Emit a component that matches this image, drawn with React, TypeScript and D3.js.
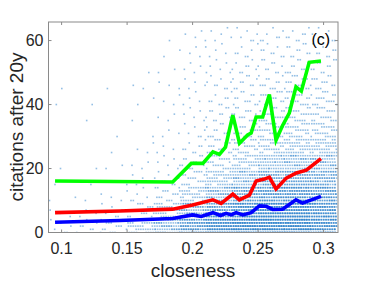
import * as d3 from 'd3';
import React, { useEffect, useRef } from 'react';

// axis setup
const xTicks = [0.1, 0.15, 0.2, 0.25, 0.3];
const yTicks = [0, 20, 40, 60];

// mean lines (closeness, citations after 20y)
const greenX = [0.095, 0.1848, 0.199, 0.2078, 0.2155, 0.2205, 0.2251, 0.2307, 0.2358, 0.242, 0.2447, 0.2485, 0.2535, 0.2586, 0.2637, 0.2685, 0.2738, 0.2789, 0.283, 0.289, 0.298];
const greenY = [16.1, 15.8, 21.6, 21.6, 25.2, 24.4, 26.7, 36.7, 27.9, 30.5, 31.1, 36.1, 36.1, 43.1, 28.9, 33.3, 37.3, 45.5, 44.2, 53.2, 53.6];

const redX = [0.095, 0.1444, 0.1848, 0.2, 0.2155, 0.2218, 0.2307, 0.2357, 0.2434, 0.2485, 0.2548, 0.2586, 0.2637, 0.2715, 0.2792, 0.2868, 0.298];
const redY = [6.2, 6.7, 7.3, 8.6, 10.2, 9.1, 12.0, 10.2, 11.7, 16.1, 16.7, 17.3, 13.6, 17.0, 18.6, 19.5, 23.1];

const blueX = [0.095, 0.1444, 0.1848, 0.2, 0.2066, 0.2155, 0.2213, 0.2256, 0.2295, 0.2332, 0.2383, 0.2447, 0.251, 0.2561, 0.2612, 0.2687, 0.2789, 0.2839, 0.298];
const blueY = [3.2, 3.75, 4.4, 5.5, 5.0, 6.2, 5.3, 6.0, 5.5, 6.2, 5.5, 6.2, 8.3, 8.2, 7.2, 7.25, 10.2, 9.2, 11.3];

// scatter density: closeness bins (0.02 wide) x citation bands (5 wide)
const binStarts = [0.09, 0.11, 0.13, 0.15, 0.17, 0.19, 0.21, 0.23, 0.25, 0.27, 0.29];
const bandStarts = [0, 5, 10, 15, 20, 25, 30, 35, 40, 45, 50, 55, 60];
const counts = [
  [6, 3, 1, 1, 1, 0, 0, 0, 1, 1, 0, 0, 0],
  [8, 3, 2, 1, 1, 0, 0, 1, 1, 0, 0, 0, 0],
  [15, 6, 3, 2, 2, 1, 1, 0, 0, 1, 0, 0, 0],
  [40, 15, 6, 4, 3, 2, 1, 1, 1, 2, 1, 0, 0],
  [80, 35, 15, 8, 5, 4, 3, 3, 3, 3, 2, 1, 1],
  [150, 80, 40, 20, 12, 8, 6, 5, 5, 4, 4, 4, 4],
  [220, 140, 80, 45, 25, 16, 12, 10, 8, 8, 6, 5, 5],
  [250, 200, 120, 70, 40, 25, 18, 14, 12, 10, 8, 7, 6],
  [250, 220, 150, 100, 60, 35, 25, 18, 15, 12, 10, 8, 7],
  [250, 220, 160, 110, 70, 45, 30, 22, 18, 15, 12, 10, 8],
  [200, 180, 140, 100, 70, 45, 30, 22, 18, 14, 10, 8, 6],
];

function App() {
  const ref = useRef(null);

  useEffect(() => {
    const svg = d3.select(ref.current);
    svg.selectAll('*').remove();

    const x = d3.scaleLinear().domain([0.09, 0.311]).range([48.5, 338]);
    const y = d3.scaleLinear().domain([0, 65.8]).range([232.5, 22]);

    svg.append('defs').append('clipPath').attr('id', 'plotclip')
      .append('rect').attr('x', 48.5).attr('y', 22).attr('width', 289.5).attr('height', 210.5);

    // scatter points, spread across each cell
    const pts = [];
    binStarts.forEach((b0, bi) => {
      bandStarts.forEach((k0, ki) => {
        const n = counts[bi][ki];
        for (let i = 0; i < n; i++) {
          const f = ((i + 1) * 0.6180339 + bi * 0.37 + ki * 0.21) % 1;
          pts.push([b0 + f * 0.02, k0 + (i % 5)]);
        }
      });
    });

    const g = svg.append('g').attr('clip-path', 'url(#plotclip)');
    g.selectAll('rect.pt')
      .data(pts)
      .enter()
      .append('rect')
      .attr('class', 'pt')
      .attr('x', d => x(d[0]) - 0.8)
      .attr('y', d => y(d[1]) - 0.8)
      .attr('width', 1.6)
      .attr('height', 1.6)
      .attr('fill', '#2a80cc')
      .attr('opacity', 0.5);

    const line = d3.line();
    const series = [
      { xs: blueX, ys: blueY, color: '#0000ff' },
      { xs: redX, ys: redY, color: '#ff0000' },
      { xs: greenX, ys: greenY, color: '#00ff00' },
    ];
    series.forEach(s => {
      g.append('path')
        .attr('d', line(s.xs.map((v, i) => [x(v), y(s.ys[i])])))
        .attr('fill', 'none')
        .attr('stroke', s.color)
        .attr('stroke-width', 3.6)
        .attr('stroke-linejoin', 'miter');
    });

    // box + ticks
    const axisColor = '#8a8a8a';
    svg.append('rect')
      .attr('x', 48.5).attr('y', 22).attr('width', 289.5).attr('height', 210.5)
      .attr('fill', 'none').attr('stroke', axisColor).attr('stroke-width', 1);

    xTicks.forEach(t => {
      svg.append('line').attr('x1', x(t)).attr('x2', x(t)).attr('y1', 232.5).attr('y2', 229.5)
        .attr('stroke', axisColor);
      svg.append('line').attr('x1', x(t)).attr('x2', x(t)).attr('y1', 22).attr('y2', 25)
        .attr('stroke', axisColor);
      svg.append('text').attr('x', x(t)).attr('y', 253.5)
        .attr('text-anchor', 'middle')
        .attr('font-family', 'Liberation Sans, Arial, sans-serif')
        .attr('font-size', 16).attr('fill', '#262626')
        .text(String(t));
    });

    yTicks.forEach(t => {
      svg.append('line').attr('x1', 48.5).attr('x2', 51.5).attr('y1', y(t)).attr('y2', y(t))
        .attr('stroke', axisColor);
      svg.append('line').attr('x1', 338).attr('x2', 335).attr('y1', y(t)).attr('y2', y(t))
        .attr('stroke', axisColor);
      svg.append('text').attr('x', 43.5).attr('y', y(t))
        .attr('dy', '0.36em')
        .attr('text-anchor', 'end')
        .attr('font-family', 'Liberation Sans, Arial, sans-serif')
        .attr('font-size', 16).attr('fill', '#262626')
        .text(String(t));
    });

    svg.append('text')
      .attr('x', 193).attr('y', 276.5)
      .attr('text-anchor', 'middle')
      .attr('font-family', 'Liberation Sans, Arial, sans-serif')
      .attr('font-size', 19).attr('fill', '#262626')
      .text('closeness');

    svg.append('text')
      .attr('transform', 'translate(22.5,127) rotate(-90)')
      .attr('text-anchor', 'middle')
      .attr('font-family', 'Liberation Sans, Arial, sans-serif')
      .attr('font-size', 19).attr('fill', '#262626')
      .text('citations after 20y');

    svg.append('text')
      .attr('x', 311.5).attr('y', 45)
      .attr('font-family', 'Liberation Sans, Arial, sans-serif')
      .attr('font-size', 16).attr('fill', '#000')
      .text('(c)');
  }, []);

  return (
    <svg ref={ref} width={374} height={281}
      style={{ position: 'absolute', left: 0, top: 0, background: '#fff' }}></svg>
  );
}

export default App;
